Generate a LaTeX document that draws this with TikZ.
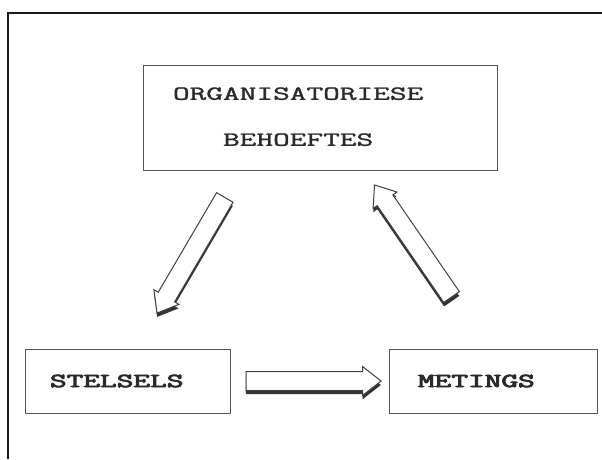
\documentclass[tikz,border=0pt]{standalone}
\usepackage{fontspec}
\usepackage{graphicx}
\usetikzlibrary{shapes.arrows, positioning}
\newfontfamily\courreg{Latin Modern Mono}[FakeBold=1.2]
\newfontfamily\courbold{Latin Modern Mono}[FakeBold=3.5]
\definecolor{Ink}{HTML}{2A2A2A}
\definecolor{Edge}{HTML}{555555}
\newcommand{\widetxt}[1]{\scalebox{1.62}[1]{#1}}

\tikzset{
  frame/.style={draw=black!90, line width=2pt},
  box/.style={draw=Edge, line width=1pt, rectangle, align=left, text=Ink,
    font=\courreg\fontsize{20}{24}\selectfont},
  blockarrow/.style={single arrow, draw=black!75, fill=white, line width=1pt,
    inner sep=9pt, single arrow head extend=5pt, single arrow tip angle=76,
    minimum height=#1},
  arrowshade/.style={single arrow, fill=black!80, inner sep=9pt,
    single arrow head extend=5pt, single arrow tip angle=76, minimum height=#1},
}

\begin{document}
\begin{tikzpicture}[x=1pt, y=1pt]
  \useasboundingbox (0,0) rectangle (602,459);
  \draw[frame] (8,0) -- (8,445.5) -- (602,445.5);

  % boxes
  \node[box, minimum width=354, minimum height=104, text width=294, inner xsep=30pt] (org) at (320,341)
    {\begin{tabular}{@{}c@{}}\widetxt{ORGANISATORIESE}\\[22pt]\widetxt{BEHOEFTES}\end{tabular}};
  \node[box, minimum width=205, minimum height=64, text width=155, inner xsep=25pt] (sys) at (127.5,78)
    {\courbold\widetxt{STELSELS}};
  \node[box, minimum width=208, minimum height=64, text width=150, inner xsep=29pt] (met) at (493,78)
    {\courbold\widetxt{METINGS}};

  % arrow ends
  \coordinate (orgout) at (228,267);
  \coordinate (sysin)  at (160,151);
  \coordinate (sysout) at (240,78);
  \coordinate (metin)  at (375,78);
  \coordinate (metout) at (455,157);
  \coordinate (orgin)  at (378,269);

  % block arrows with shade
  \path ([yshift=-4pt]orgout) -- node[arrowshade=134, sloped, allow upside down] (shadeA) {} ([yshift=-4pt]sysin);
  \path (orgout) -- node[blockarrow=134, sloped, allow upside down] (arrA) {} (sysin);
  \path ([yshift=-4pt]sysout) -- node[arrowshade=135, sloped, allow upside down] (shadeB) {} ([yshift=-4pt]metin);
  \path (sysout) -- node[blockarrow=135, sloped, allow upside down] (arrB) {} (metin);
  \path ([yshift=-4pt]metout) -- node[arrowshade=136, sloped, allow upside down] (shadeC) {} ([yshift=-4pt]orgin);
  \path (metout) -- node[blockarrow=136, sloped, allow upside down] (arrC) {} (orgin);
\end{tikzpicture}
\end{document}
